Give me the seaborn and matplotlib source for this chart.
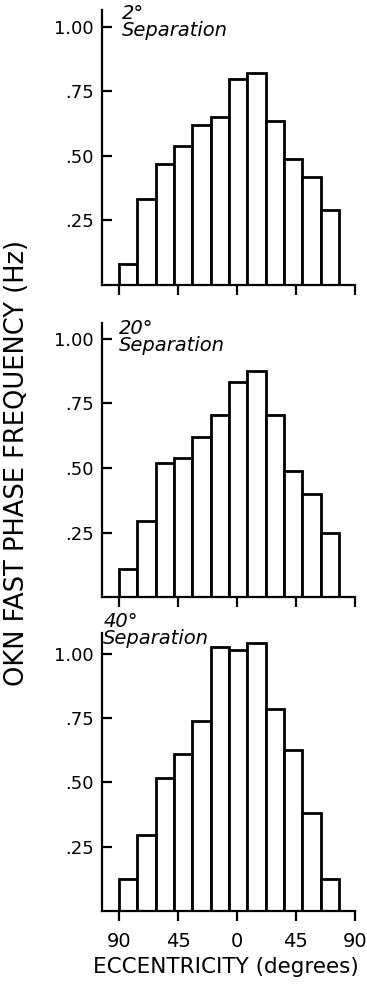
import matplotlib
matplotlib.use("Agg")
import matplotlib.pyplot as plt
import numpy as np
import seaborn as sns

# bin edges in degrees of eccentricity (left = -90, right = +90)
BIN_EDGES = [-90, -76, -62, -48, -34, -20, -6, 8, 22, 36, 50, 64, 78]

# OKN fast phase frequency (Hz) per bin
SEP_2 = [0.08, 0.335, 0.47, 0.54, 0.62, 0.65, 0.80, 0.82, 0.635, 0.49, 0.42, 0.29]
SEP_20 = [0.11, 0.295, 0.52, 0.54, 0.62, 0.705, 0.835, 0.875, 0.705, 0.49, 0.40, 0.25]
SEP_40 = [0.125, 0.295, 0.515, 0.61, 0.74, 1.025, 1.015, 1.04, 0.785, 0.625, 0.38, 0.125]

PANEL_LABELS = ["2°\nSeparation", "20°\nSeparation", "40°\nSeparation"]
Y_TICKS = [0.25, 0.50, 0.75, 1.00]
Y_TICK_LABELS = [".25", ".50", ".75", "1.00"]
X_TICKS = [-90, -45, 0, 45, 90]
X_TICK_LABELS = ["90", "45", "0", "45", "90"]

sns.set_style("ticks")
plt.rcParams["font.family"] = ["DejaVu Sans"]
plt.rcParams.update({
    "text.color": "black",
    "axes.labelcolor": "black",
    "axes.edgecolor": "black",
    "xtick.color": "black",
    "ytick.color": "black",
})

fig = plt.figure(figsize=(3.67, 9.85), dpi=100)

# axes boxes in figure fractions: [left, bottom, width, height]
boxes = [
    [0.278, 0.7107, 0.689, 0.2792],
    [0.278, 0.3939, 0.689, 0.2782],
    [0.278, 0.0751, 0.689, 0.2822],
]
ylims = [1.066, 1.062, 1.08]
label_pos = [(-88, 1.09), (-90, 1.077), (-102, 1.16)]

centers = (np.array(BIN_EDGES[:-1]) + np.array(BIN_EDGES[1:])) / 2
series = [SEP_2, SEP_20, SEP_40]

for i, (box, vals) in enumerate(zip(boxes, series)):
    ax = fig.add_axes(box)
    sns.histplot(
        x=centers,
        weights=vals,
        bins=BIN_EDGES,
        ax=ax,
        color="white",
        edgecolor="black",
        linewidth=2.0,
        alpha=1.0,
    )
    ax.set_xlim(-103, 90)
    ax.set_ylim(0, ylims[i])
    ax.set_ylabel("")
    ax.set_xlabel("")
    sns.despine(ax=ax)
    for side in ("left", "bottom"):
        ax.spines[side].set_linewidth(1.6)
    ax.set_yticks(Y_TICKS)
    ax.set_yticklabels(Y_TICK_LABELS, fontsize=13)
    ax.tick_params(axis="y", direction="in", length=7, width=1.6, pad=6)
    ax.set_xticks(X_TICKS)
    ax.tick_params(axis="x", direction="out", length=7, width=1.6, pad=8)
    if i == 2:
        ax.set_xticklabels(X_TICK_LABELS, fontsize=14)
    else:
        ax.set_xticklabels([])
    lx, ly = label_pos[i]
    ax.text(lx, ly, PANEL_LABELS[i], style="italic", fontsize=14,
            ha="left", va="top", linespacing=0.85, clip_on=False)

fig.text(0.045, 0.53, "OKN FAST PHASE FREQUENCY (Hz)", rotation=90,
         ha="center", va="center", fontsize=18.5)
fig.text(0.615, 0.008, "ECCENTRICITY (degrees)", ha="center", va="bottom",
         fontsize=15.5)

fig.savefig("out.png", dpi=100)
